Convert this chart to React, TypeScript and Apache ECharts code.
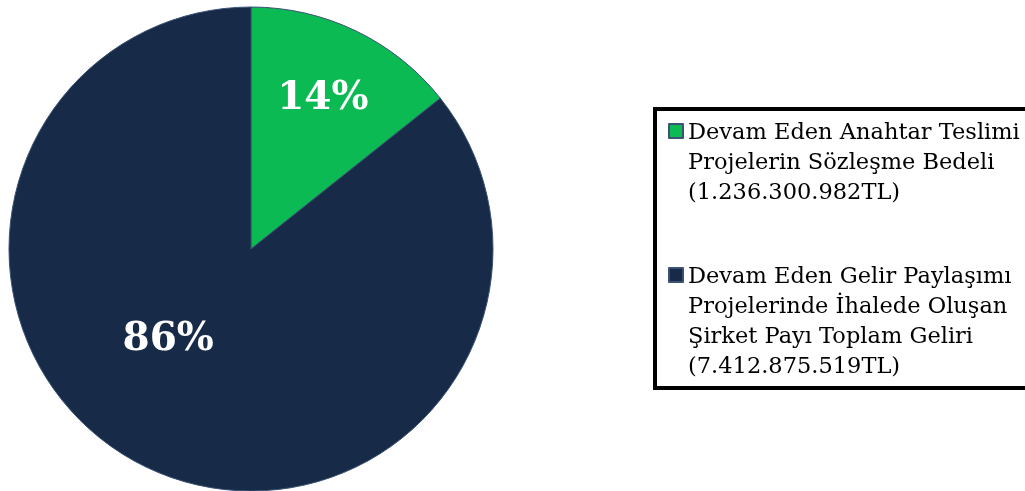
import React, { useEffect, useRef } from "react";
import * as echarts from "echarts";

const categories = [
  "Devam Eden Anahtar Teslimi\nProjelerin Sözleşme Bedeli\n(1.236.300.982TL)",
  "Devam Eden Gelir Paylaşımı\nProjelerinde İhalede Oluşan\nŞirket Payı Toplam Geliri\n(7.412.875.519TL)",
];
const values = [1236300982, 7412875519];
const colors = ["#0BBA53", "#172B48"];
const labelShift = [
  [18, -42],
  [-29, -25],
];

export default function App() {
  const ref = useRef<HTMLDivElement>(null);
  useEffect(() => {
    const chart = echarts.init(ref.current!, null, { renderer: "svg" });
    const font = "'DejaVu Serif', serif";
    chart.setOption({
      animation: false,
      graphic: [
        {
          type: "rect",
          shape: { x: 655, y: 109, width: 400, height: 279 },
          style: { fill: "#fff", stroke: "#000", lineWidth: 4 },
          z: -1,
        },
      ],
      legend: {
        orient: "vertical",
        left: 668,
        top: 56,
        padding: 0,
        icon: "rect",
        itemWidth: 14,
        itemHeight: 14,
        itemGap: -36,
        formatter: (name: string) => {
          const n = name.split("\n").length;
          return "\n".repeat(n - 1) + name;
        },
        textStyle: { fontFamily: font, fontSize: 22.5, lineHeight: 30, color: "#000" },
        data: categories,
      },
      series: [
        {
          type: "pie",
          center: [251, 249],
          radius: 242,
          startAngle: 90,
          clockwise: true,
          silent: true,
          itemStyle: { borderColor: "#3b5273", borderWidth: 1 },
          label: {
            show: true,
            position: "inside",
            formatter: (p: any) => Math.round(p.percent) + "%",
            fontFamily: font,
            fontWeight: "bold",
            fontSize: 39,
            color: "#fff",
          },
          labelLine: { show: false },
          labelLayout: (p: any) => ({ dx: labelShift[p.dataIndex][0], dy: labelShift[p.dataIndex][1] }),
          data: categories.map((n, i) => ({ name: n, value: values[i], itemStyle: { color: colors[i] } })),
        },
      ],
    });
    return () => chart.dispose();
  }, []);
  return <div ref={ref} style={{ position: "fixed", left: 0, top: 0, width: 1025, height: 491 }} />;
}
